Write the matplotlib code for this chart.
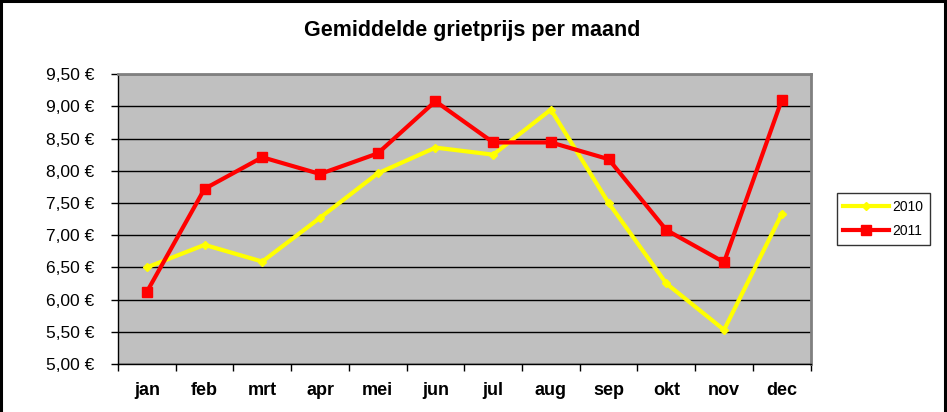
import matplotlib
matplotlib.use("Agg")
import matplotlib.pyplot as plt
from matplotlib.patches import Rectangle

plt.rcParams['font.family'] = ['Liberation Sans', 'DejaVu Sans']

months = ["jan", "feb", "mrt", "apr", "mei", "jun", "jul", "aug", "sep", "okt", "nov", "dec"]
prices_2010 = [6.50, 6.85, 6.59, 7.27, 7.96, 8.36, 8.25, 8.95, 7.50, 6.25, 5.53, 7.33]
prices_2011 = [6.12, 7.72, 8.21, 7.95, 8.27, 9.08, 8.44, 8.44, 8.18, 7.08, 6.58, 9.10]
yticks = [5.0, 5.5, 6.0, 6.5, 7.0, 7.5, 8.0, 8.5, 9.0, 9.5]
title = "Gemiddelde grietprijs per maand"

fig = plt.figure(figsize=(9.47, 4.12), dpi=100)
fig.patches.append(Rectangle((0.001, -0.01), 0.997, 1.008, transform=fig.transFigure,
                             fill=False, edgecolor='black', linewidth=2.2, zorder=10))

ax = fig.add_axes([0.1246, 0.1165, 0.7314, 0.7035])
ax.set_facecolor('#C0C0C0')

x = list(range(len(months)))
ax.plot(x, prices_2010, color='#FFFF00', linewidth=3, marker='D', markersize=4,
        label='2010', zorder=3)
ax.plot(x, prices_2011, color='#FF0000', linewidth=3, marker='s', markersize=7,
        label='2011', zorder=4)

ax.set_xlim(-0.5, len(months) - 0.5)
ax.set_ylim(5.0, 9.5)
ax.set_yticks(yticks)
ax.set_yticklabels([f"{v:.2f}".replace('.', ',') + " €" for v in yticks], fontsize=12.5)
ax.yaxis.grid(True, color='black', linewidth=1)
ax.set_axisbelow(True)

ax.set_xticks([i + 0.5 for i in range(-1, len(months))], minor=False)
ax.set_xticklabels([])
ax.set_xticks(x, minor=True)
ax.set_xticklabels(months, minor=True, fontsize=13, fontweight='bold')
ax.tick_params(axis='x', which='major', direction='out', length=5, width=1, color='black')
ax.tick_params(axis='x', which='minor', length=0, pad=13)
ax.tick_params(axis='y', direction='out', length=5, width=1, color='black', pad=12)

for side in ['top', 'right']:
    ax.spines[side].set_color('#808080')
    ax.spines[side].set_linewidth(2)
for side in ['left', 'bottom']:
    ax.spines[side].set_color('black')
    ax.spines[side].set_linewidth(1)

fig.text(0.499, 0.927, title, ha='center', va='center', fontsize=15.5, fontweight='bold')

leg = fig.legend(loc='center left', bbox_to_anchor=(0.876, 0.468), frameon=True,
                 fancybox=False, edgecolor='black', fontsize=10, handlelength=3.3,
                 borderpad=0.5, labelspacing=0.7, handletextpad=0.2)
leg.get_frame().set_linewidth(1)

fig.savefig('out.png', dpi=100)
